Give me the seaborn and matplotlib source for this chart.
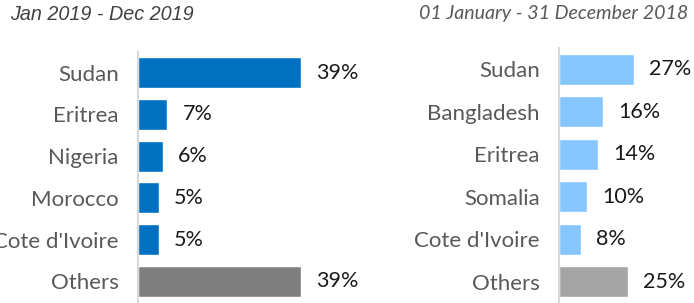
import numpy as np
import pandas as pd
import matplotlib
matplotlib.use('Agg')
import matplotlib.pyplot as plt
import seaborn as sb

# data
countries_2019 = ['Sudan', 'Eritrea', 'Nigeria', 'Morocco', "Cote d'Ivoire", 'Others']
share_2019 = [39, 7, 6, 5, 5, 39]
countries_2018 = ['Sudan', 'Bangladesh', 'Eritrea', 'Somalia', "Cote d'Ivoire", 'Others']
share_2018 = [27, 16, 14, 10, 8, 25]

colors_2019 = ['#0070C0'] * 5 + ['#7F7F7F']
colors_2018 = ['#85C6FF'] * 5 + ['#A5A5A5']

sb.set_style('white')
plt.rcParams['font.family'] = ['Lato', 'DejaVu Sans']

W, H = 694, 303
fig = plt.figure(figsize=(W / 100, H / 100), dpi=100)


def make_panel(rect, names, vals, colors, xmax):
    ax = fig.add_axes(rect)
    df = pd.DataFrame({'country': names, 'share': vals})
    sb.barplot(data=df, x='share', y='country', hue='country',
               palette=colors, legend=False, width=0.74, saturation=1,
               ax=ax)
    ax.set_xlim(0, xmax)
    ax.set_ylim(len(names) - 0.5, -0.5)
    ax.set_xlabel('')
    ax.set_ylabel('')
    ax.set_xticks([])
    for s in ['top', 'right', 'bottom']:
        ax.spines[s].set_visible(False)
    ax.spines['left'].set_color('#D9D9D9')
    ax.spines['left'].set_linewidth(1.5)
    ax.set_yticks(np.arange(len(names)))
    ax.set_yticklabels(names, fontsize=16, color='#595959')
    ax.tick_params(axis='y', which='major', length=0, pad=14)
    ax.set_yticks(np.arange(len(names) + 1) - 0.5, minor=True)
    ax.tick_params(axis='y', which='minor', length=5, width=1.5, color='#D9D9D9')
    for i, v in enumerate(vals):
        ax.annotate(f'{v}%', xy=(v, i), xytext=(11, 0), textcoords='offset points',
                    va='center', ha='left', fontsize=15.5, color='#1A1A1A')
    return ax


# left panel: 2019
make_panel([138 / W, 1 / H, 200 / W, 250 / H], countries_2019, share_2019,
           colors_2019, 200 / 4.18)
# right panel: 2018
make_panel([559 / W, 0, 135 / W, 255 / H], countries_2018, share_2018,
           colors_2018, 135 / 2.76)

fig.text(10 / W, 1 - 14 / H, 'Jan 2019 - Dec 2019', fontsize=14.2, style='italic',
         family='Liberation Sans', color='#404040', va='center', ha='left')
fig.text(688 / W, 1 - 14 / H, '01 January - 31 December 2018', fontsize=14.1,
         style='italic', color='#595959', va='center', ha='right')

fig.savefig('out.png', dpi=100)
